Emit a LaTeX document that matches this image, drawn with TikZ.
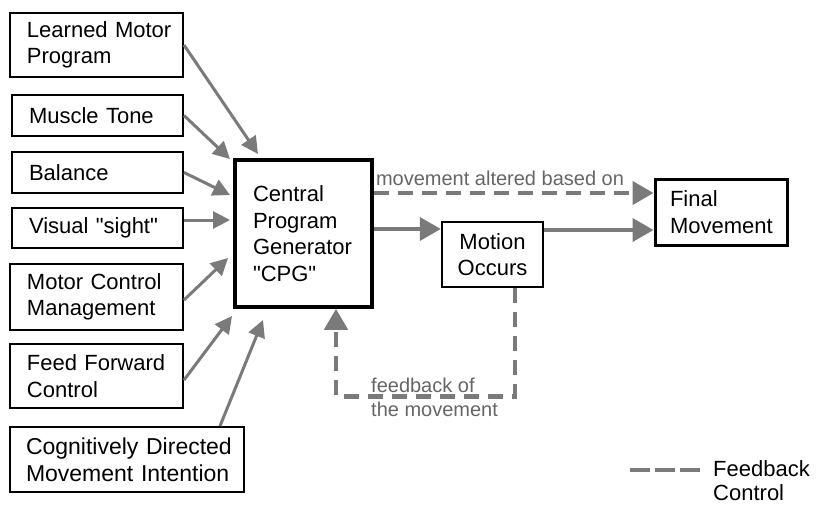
\documentclass[tikz,border=0pt]{standalone}
\usepackage{fontspec}
\setmainfont{Liberation Sans}
\usetikzlibrary{arrows.meta,calc}
\definecolor{arrgray}{HTML}{7A7A7A}
\definecolor{labgray}{HTML}{666666}
\newcommand{\dq}{\XeTeXglyph\XeTeXcharglyph"22\relax}
\begin{document}
\begin{tikzpicture}[x=1pt,y=-1pt,
  every node/.style={font=\fontsize{22}{26.5}\selectfont},
  box/.style={draw=black, line width=2pt, align=left, inner ysep=0pt, inner xsep=17pt},
  arrL/.style={draw=arrgray, line width=3pt, -{Triangle[length=17pt,width=17pt]}},
  arrR/.style={draw=arrgray, line width=4pt, -{Triangle[length=21pt,width=23pt]}},
  fbdash/.style={draw=arrgray, line width=4.5pt, dash pattern=on 15pt off 9pt, -{Triangle[length=21pt,width=23pt]}},
  legdash/.style={draw=arrgray, line width=4.5pt, dash pattern=on 20pt off 5pt},
  lab/.style={text=labgray, font=\fontsize{20}{24}\selectfont, align=left, inner sep=0pt}]
\useasboundingbox (0,0) rectangle (816,504);
\fill[white] (0,0) rectangle (816,504);

% input boxes
\node[box, text width=139pt, minimum height=64pt] (lmp) at (96.5,45) {\mbox{Learned Motor}\\Program};
\node[box, text width=137pt, minimum height=41pt] (mt) at (97.5,115.5) {\mbox{Muscle Tone}};
\node[box, text width=137pt, minimum height=41pt] (bal) at (97.5,172.5) {Balance};
\node[box, text width=137pt, minimum height=40pt] (vis) at (97.5,228) {\mbox{Visual \dq sight\dq}};
\node[box, text width=139pt, minimum height=66pt] (mcm) at (96.5,297) {\mbox{Motor Control}\\Management};
\node[box, text width=139pt, minimum height=64pt] (ffc) at (96.5,376) {\mbox{Feed Forward}\\Control};
\node[box, text width=202pt, inner xsep=16pt, minimum height=65pt, font=\fontsize{23}{27}\selectfont] (cdmi) at (127,459.5) {\mbox{Cognitively Directed}\\\mbox{Movement Intention}};

% central boxes
\node[box, line width=3.5pt, text width=101pt, inner xsep=18pt, minimum height=147pt] (cpg) at (303.5,233.5) {Central\\Program\\Generator\\\dq CPG\dq};
\node[draw=black, line width=2.5pt, align=center, inner sep=0pt, minimum width=101pt, minimum height=65pt] (mo) at (492.5,254.5) {Motion\\Occurs};
\node[box, line width=3pt, text width=102pt, inner xsep=15pt, minimum height=66pt] (fm) at (721,212) {Final\\Movement};

% arrow tips into CPG
\coordinate (t1) at (258,154);
\coordinate (t2) at (230,159);
\coordinate (t3) at (230,195);
\coordinate (t4) at (230,220);
\coordinate (t5) at (228,258);
\coordinate (t6) at (232,316);
\coordinate (t7) at (263,320);

\draw[arrL] (lmp.east) -- (t1);
\draw[arrL] (mt.east) -- (t2);
\draw[arrL] (bal.east) -- (t3);
\draw[arrL] ([yshift=8pt]vis.east) -- (t4);
\draw[arrL] ([yshift=-3pt]mcm.east) -- (t5);
\draw[arrL] ([yshift=-4pt]ffc.east) -- (t6);
\draw[arrL] ([xshift=93pt]cdmi.north) -- (t7);

% main flow
\draw[arrR] ([yshift=4.5pt]cpg.east) -- ([yshift=4.5pt]cpg.east -| mo.west);
\draw[arrR] ([yshift=24.5pt]mo.east) -- ([yshift=24.5pt]mo.east -| fm.west);

% feedback paths
\draw[fbdash] ([yshift=40.5pt]cpg.east) -- ([yshift=40.5pt]cpg.east -| fm.west);
\node[lab, anchor=base] (l1) at (500,185) {movement altered based on};
\draw[fbdash] ([xshift=22.5pt]mo.south) -- ++(0,108) -| ([xshift=32.5pt]cpg.south);
\node[lab, anchor=west] (l2) at (371,397) {feedback of\\the movement};

% legend
\coordinate (lg1) at (630,470);
\coordinate (lg2) at (700,470);
\draw[legdash] (lg1) -- (lg2);
\node[align=left, inner sep=0pt, anchor=west, font=\fontsize{22}{24}\selectfont] (lgt) at (713,481) {Feedback\\Control};
\end{tikzpicture}
\end{document}
